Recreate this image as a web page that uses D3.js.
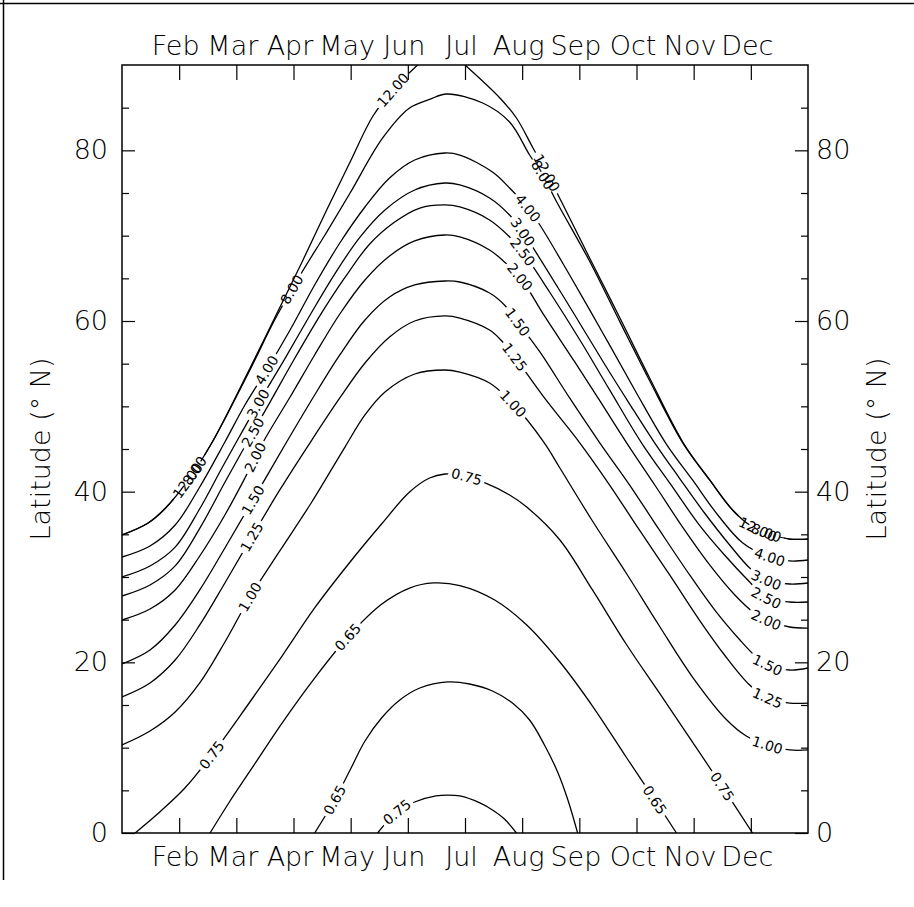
<!DOCTYPE html>
<html>
<head>
<meta charset="utf-8">
<script src="https://cdn.jsdelivr.net/npm/d3@7/dist/d3.min.js"></script>
<style>
  body { margin: 0; background: #fff; }
  svg text { font-family: "DejaVu Sans", sans-serif; fill: #000; }
</style>
</head>
<body>
<svg id="chart" width="914" height="907"></svg>
<script>
// x = month index (0 = 1 Jan, 12 = 31 Dec), y = latitude (deg N)
const monthTicks = [1, 2, 3, 4, 5, 6, 7, 8, 9, 10, 11];
const monthNames = ['Feb', 'Mar', 'Apr', 'May', 'Jun', 'Jul', 'Aug', 'Sep', 'Oct', 'Nov', 'Dec'];
const latMajor = [0, 20, 40, 60, 80];
const latMinor = [5, 10, 15, 25, 30, 35, 45, 50, 55, 65, 70, 75, 85];

// contour lines, [month, latitude]
const c1200a = [[0, 34.92], [0.45, 36.3], [0.75, 38.0], [1.15, 41.3], [1.57, 45.7], [2.24, 54.49], [2.67, 60.35],
  [3.15, 66.92], [3.58, 73.01], [3.99, 78.63], [4.39, 84.02], [4.77, 87.31], [5.17, 90]];
const c1200b = [[6.0, 90], [6.61, 86.14], [6.9, 83.79], [7.18, 80.39], [7.45, 77.11], [7.69, 73.95], [8.18, 67.38],
  [8.71, 60.35], [9.23, 53.32], [9.82, 45.7], [10.28, 41.37], [10.68, 37.85], [10.98, 36.09], [11.33, 35.04],
  [11.68, 34.45], [12, 34.45]];
const c800 = [[0, 34.92], [0.45, 36.3], [0.75, 38.0], [1.15, 41.3], [1.57, 45.7], [2.24, 54.3], [2.67, 60.12],
  [3.15, 65.74], [3.55, 70.08], [3.99, 75.0], [4.56, 81.45], [5.03, 84.96], [5.38, 85.97], [5.68, 86.6],
  [6.31, 85.55], [6.78, 83.32], [7.13, 79.45], [7.36, 77.11], [7.6, 74.0], [8.18, 67.0], [8.71, 59.9],
  [9.23, 53.0], [9.82, 45.6], [10.28, 41.37], [10.68, 37.85], [10.98, 36.09], [11.33, 35.04], [11.68, 34.45], [12, 34.45]];
const c400 = [[0, 32.34], [0.49, 33.63], [0.93, 36.09], [1.36, 40.55], [1.8, 45.82], [2.15, 50.16], [2.53, 54.26],
  [2.94, 58.95], [3.37, 64.22], [3.81, 69.14], [4.25, 73.36], [4.68, 76.76], [5.12, 78.87], [5.65, 79.69],
  [5.91, 79.45], [6.48, 77.46], [6.78, 75.59], [7.1, 73.24], [7.31, 71.25], [7.83, 65.39], [8.41, 58.6],
  [8.97, 51.92], [9.51, 45.7], [9.98, 41.37], [10.45, 37.03], [10.86, 33.99], [11.33, 32.34], [11.68, 31.88], [12, 31.99]];
const c300 = [[0, 30.0], [0.49, 31.29], [0.93, 33.5], [1.36, 38.0], [1.75, 42.8], [2.1, 47.0], [2.45, 51.1],
  [2.85, 55.6], [3.29, 60.7], [3.72, 65.5], [4.16, 69.8], [4.6, 73.01], [5.12, 75.35], [5.65, 76.17],
  [5.91, 75.94], [6.43, 74.42], [6.78, 72.42], [7.01, 70.43], [7.39, 66.45], [7.92, 60.7], [8.44, 54.96],
  [8.88, 50.27], [9.32, 45.7], [9.75, 41.6], [10.19, 37.5], [10.63, 33.75], [10.98, 31.06], [11.27, 29.65],
  [11.68, 29.18], [12, 29.3]];
const c250 = [[0, 27.77], [0.49, 29.06], [0.93, 31.3], [1.36, 35.7], [1.8, 41.1], [2.2, 45.9], [2.59, 50.5],
  [3.02, 55.6], [3.46, 60.6], [3.9, 65.1], [4.33, 69.0], [4.77, 71.6], [5.21, 73.24], [5.65, 73.6],
  [5.91, 73.36], [6.43, 71.84], [6.78, 69.85], [7.01, 68.09], [7.48, 63.4], [8.01, 57.77], [8.53, 51.92],
  [9.09, 45.7], [9.58, 41.02], [10.1, 36.09], [10.54, 32.58], [10.98, 29.41], [11.27, 27.54], [11.68, 27.07], [12, 27.07]];
const c200 = [[0, 24.96], [0.49, 26.25], [0.93, 28.48], [1.36, 32.46], [1.8, 37.27], [2.15, 41.6], [2.46, 45.7],
  [2.94, 51.09], [3.37, 56.02], [3.81, 60.82], [4.25, 64.81], [4.68, 67.62], [5.12, 69.38], [5.65, 70.08],
  [5.91, 69.85], [6.43, 68.32], [6.69, 66.92], [6.96, 65.16], [7.39, 60.59], [7.92, 55.2], [8.36, 50.63],
  [8.83, 45.7], [9.32, 40.78], [9.84, 35.51], [10.28, 31.41], [10.72, 27.89], [11.06, 25.78], [11.27, 24.96],
  [11.68, 24.14], [12, 24.02]];
const c150 = [[0, 19.81], [0.49, 21.45], [0.93, 24.38], [1.36, 28.48], [1.8, 33.4], [2.29, 39.02], [2.9, 46.05],
  [3.37, 51.33], [3.81, 56.02], [4.25, 60.12], [4.68, 62.81], [5.12, 64.22], [5.65, 64.69],
  [5.91, 64.57], [6.43, 63.28], [6.69, 61.88], [6.92, 59.88], [7.31, 56.37], [7.83, 50.98], [8.36, 45.7],
  [8.88, 40.78], [9.4, 35.51], [9.93, 30.24], [10.37, 26.13], [10.81, 22.62], [11.06, 20.86], [11.29, 19.69],
  [11.68, 19.1], [12, 19.34]];
const c125 = [[0, 15.94], [0.49, 17.58], [0.93, 20.27], [1.36, 24.38], [1.8, 29.3], [2.27, 34.69], [2.76, 40.2],
  [3.32, 46.05], [3.81, 50.98], [4.25, 55.08], [4.68, 58.13], [5.12, 60.0], [5.65, 60.59],
  [5.91, 60.35], [6.43, 58.95], [6.66, 57.54], [6.87, 55.78], [7.39, 50.98], [8.01, 45.7], [8.53, 40.78],
  [9.05, 35.51], [9.58, 30.24], [10.1, 24.96], [10.54, 20.86], [10.98, 17.34], [11.29, 15.82], [11.68, 15.23], [12, 15.23]];
const c100 = [[0, 10.31], [0.49, 11.95], [0.93, 14.18], [1.36, 17.58], [1.8, 22.38], [2.24, 27.66], [2.76, 33.05],
  [3.32, 38.79], [3.9, 45.23], [4.25, 48.99], [4.6, 51.68], [5.12, 53.79], [5.65, 54.26],
  [5.91, 54.02], [6.43, 52.74], [6.83, 50.39], [7.39, 45.7], [7.66, 42.77], [8.23, 36.56], [8.83, 30.35],
  [9.4, 24.26], [9.98, 18.28], [10.58, 13.24], [10.92, 11.37], [11.29, 10.31], [11.68, 9.73], [12, 9.73]];
const c075a = [[0.23, 0], [0.66, 2.46], [1.1, 5.27], [1.57, 9.14], [2.2, 15.0], [2.8, 20.74], [3.37, 26.37],
  [3.99, 31.76], [4.54, 36.21], [5.03, 39.96], [5.38, 41.6], [5.65, 42.07], [5.91, 41.95], [6.35, 41.02],
  [6.78, 39.61], [7.08, 38.2], [7.66, 34.34], [8.23, 28.48], [8.83, 22.03], [9.4, 16.41], [9.98, 10.66],
  [10.54, 5.04], [11.03, 0]];
const c065a = [[1.54, 0], [1.89, 3.75], [2.24, 7.27], [2.8, 12.89], [3.37, 18.16], [3.95, 22.97], [4.54, 26.8],
  [5.03, 28.7], [5.45, 29.3], [5.91, 29.0], [6.52, 27.31], [7.08, 24.38], [7.66, 20.04], [8.23, 14.88],
  [8.83, 8.79], [9.32, 3.87], [9.7, 0]];
const c065b = [[3.37, 0], [3.72, 3.87], [3.99, 7.38], [4.25, 10.78], [4.54, 13.48], [4.86, 15.59], [5.21, 16.99],
  [5.7, 17.7], [6.08, 17.46], [6.48, 16.64], [6.83, 15.23], [7.13, 13.24], [7.39, 10.31], [7.62, 7.15],
  [7.8, 3.87], [7.97, 0]];
const c075b = [[4.47, 0], [4.81, 2.46], [5.12, 3.63], [5.49, 4.34], [5.7, 4.45], [5.91, 4.34], [6.26, 3.52],
  [6.48, 2.7], [6.69, 1.64], [6.9, 0]];

// where (in months) each line carries its label
const contours = [
  { text: '12.00', pts: c1200a, at: [1.15, 4.74] },
  { text: '12.00', pts: c1200b, at: [7.43, 11.12] },
  { text: '8.00', pts: c800, at: [1.27, 2.97, 7.36, 11.27] },
  { text: '4.00', pts: c400, at: [2.53, 7.1, 11.33] },
  { text: '3.00', pts: c300, at: [2.38, 7.01, 11.27] },
  { text: '2.50', pts: c250, at: [2.29, 7.01, 11.27] },
  { text: '2.00', pts: c200, at: [2.33, 6.96, 11.27] },
  { text: '1.50', pts: c150, at: [2.29, 6.92, 11.29] },
  { text: '1.25', pts: c125, at: [2.27, 6.87, 11.29] },
  { text: '1.00', pts: c100, at: [2.24, 6.84, 11.29] },
  { text: '0.75', pts: c075a, at: [1.57, 6.03, 10.5] },
  { text: '0.65', pts: c065a, at: [3.95, 9.32] },
  { text: '0.65', pts: c065b, at: [3.72] },
  { text: '0.75', pts: c075b, at: [4.81] }
];

const W = 914, H = 907;
const margin = { top: 65, right: 106, bottom: 74, left: 122 };
const width = W - margin.left - margin.right;
const height = H - margin.top - margin.bottom;

const svg = d3.select('#chart');

// page edge lines of the scan (top and left)
svg.append('line').attr('x1', 0).attr('x2', W).attr('y1', 3.5).attr('y2', 3.5)
  .attr('stroke', '#000').attr('stroke-width', 1.5);
svg.append('line').attr('x1', 3.5).attr('x2', 3.5).attr('y1', 0).attr('y2', 880)
  .attr('stroke', '#000').attr('stroke-width', 1.5);

const g = svg.append('g').attr('transform', `translate(${margin.left},${margin.top})`);

const x = d3.scaleLinear().domain([0, 12]).range([0, width]);
const y = d3.scaleLinear().domain([0, 90]).range([height, 0]);

const defs = svg.append('defs');
defs.append('clipPath').attr('id', 'plotClip')
  .append('rect').attr('width', width).attr('height', height);

const line = d3.line()
  .x(d => x(d[0]))
  .y(d => y(d[1]))
  .curve(d3.curveCatmullRom.alpha(0.5));

const lineLayer = g.append('g').attr('clip-path', 'url(#plotClip)');
const labelLayer = g.append('g');

function pointAt(node, mx) {
  const tx = x(mx);
  const L = node.getTotalLength();
  let lo = 0, hi = L;
  for (let i = 0; i < 40; i++) {
    const mid = (lo + hi) / 2;
    if (node.getPointAtLength(mid).x < tx) lo = mid; else hi = mid;
  }
  const s = (lo + hi) / 2;
  const p = node.getPointAtLength(s);
  const a = node.getPointAtLength(Math.max(0, s - 8));
  const b = node.getPointAtLength(Math.min(L, s + 8));
  return { x: p.x, y: p.y, ang: Math.atan2(b.y - a.y, b.x - a.x) * 180 / Math.PI };
}

contours.forEach((c, i) => {
  const path = lineLayer.append('path')
    .datum(c.pts)
    .attr('d', line)
    .attr('fill', 'none')
    .attr('stroke', '#000')
    .attr('stroke-width', 1.3);

  const mask = defs.append('mask').attr('id', 'gap' + i)
    .attr('maskUnits', 'userSpaceOnUse')
    .attr('x', -margin.left).attr('y', -margin.top).attr('width', W).attr('height', H);
  mask.append('rect')
    .attr('x', -margin.left).attr('y', -margin.top).attr('width', W).attr('height', H)
    .attr('fill', '#fff');

  c.at.forEach(mx => {
    const p = pointAt(path.node(), mx);
    const t = labelLayer.append('text')
      .attr('transform', `translate(${p.x},${p.y}) rotate(${p.ang})`)
      .attr('text-anchor', 'middle')
      .attr('dy', '0.36em')
      .attr('font-size', 14)
      .text(c.text);
    const w = t.node().getComputedTextLength() + 6;
    mask.append('rect')
      .attr('transform', `translate(${p.x},${p.y}) rotate(${p.ang})`)
      .attr('x', -w / 2).attr('y', -6).attr('width', w).attr('height', 12)
      .attr('fill', '#000');
  });
  path.attr('mask', `url(#gap${i})`);
});

// axes (ticks point inward)
const xFmt = d => monthNames[monthTicks.indexOf(d)];
const styleAxis = sel => {
  sel.select('.domain').remove();
  sel.selectAll('line').attr('stroke', '#000').attr('stroke-width', 1.2);
  sel.selectAll('text').attr('font-size', 27).attr('fill', '#000')
    .style('font-family', '"DejaVu Sans", sans-serif').style('font-weight', 200);
};

g.append('g').attr('transform', `translate(0,${height})`)
  .call(d3.axisBottom(x).tickValues(monthTicks).tickFormat(xFmt).tickSizeInner(-15).tickSizeOuter(0).tickPadding(14))
  .call(styleAxis)
  .selectAll('text').attr('dx', -4);
g.append('g')
  .call(d3.axisTop(x).tickValues(monthTicks).tickFormat(xFmt).tickSizeInner(-15).tickSizeOuter(0).tickPadding(10))
  .call(styleAxis)
  .selectAll('text').attr('dx', -4);

g.append('g')
  .call(d3.axisLeft(y).tickValues(latMajor).tickFormat(d3.format('d')).tickSizeInner(-13).tickSizeOuter(0).tickPadding(14))
  .call(styleAxis);
g.append('g')
  .call(d3.axisLeft(y).tickValues(latMinor).tickFormat('').tickSizeInner(-7).tickSizeOuter(0))
  .call(styleAxis);
g.append('g').attr('transform', `translate(${width},0)`)
  .call(d3.axisRight(y).tickValues(latMajor).tickFormat(d3.format('d')).tickSizeInner(-13).tickSizeOuter(0).tickPadding(8))
  .call(styleAxis);
g.append('g').attr('transform', `translate(${width},0)`)
  .call(d3.axisRight(y).tickValues(latMinor).tickFormat('').tickSizeInner(-7).tickSizeOuter(0))
  .call(styleAxis);

// plot frame
g.append('rect')
  .attr('width', width).attr('height', height)
  .attr('fill', 'none').attr('stroke', '#000').attr('stroke-width', 1.5);

// axis titles
g.append('text')
  .attr('transform', `translate(${-72},${height / 2}) rotate(-90)`)
  .attr('text-anchor', 'middle')
  .attr('font-size', 27).style('font-weight', 200)
  .text('Latitude (° N)');
g.append('text')
  .attr('transform', `translate(${width + 78},${height / 2}) rotate(-90)`)
  .attr('text-anchor', 'middle')
  .attr('font-size', 27).style('font-weight', 200)
  .text('Latitude (° N)');
</script>
</body>
</html>
